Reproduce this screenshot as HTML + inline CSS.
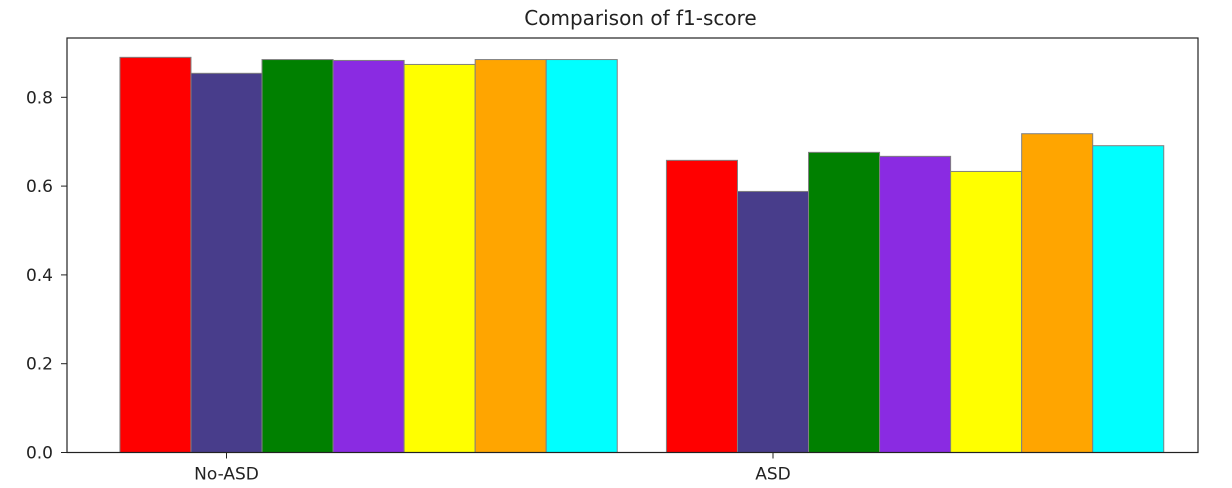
<!DOCTYPE html>
<html><head><meta charset="utf-8"><style>
body{margin:0;background:#fff;}
svg{display:block;font-family:"DejaVu Sans","Liberation Sans",sans-serif;}
</style></head><body>
<svg id="chart" width="1232" height="488"></svg>
<script>
const categories = ["No-ASD", "ASD"];
const colors = ["#ff0000", "#483d8b", "#008000", "#8a2be2", "#ffff00", "#ffa500", "#00ffff"];
const series = [
  [0.890, 0.658],
  [0.854, 0.588],
  [0.885, 0.676],
  [0.883, 0.667],
  [0.874, 0.633],
  [0.885, 0.718],
  [0.885, 0.691]
];
const yTicks = [0.0, 0.2, 0.4, 0.6, 0.8];
const yTickLabels = ["0.0", "0.2", "0.4", "0.6", "0.8"];
const barW = 0.13;

const svg = document.getElementById('chart');
const NS = 'http://www.w3.org/2000/svg';
const L = 67, R = 1198, T = 38, B = 452.5;
function xs(v){ return 226.5 + v * 546.5; }
function ys(v){ return B - v * 444; }
function mk(tag, attrs){ const e = document.createElementNS(NS, tag); for (const k in attrs) e.setAttribute(k, attrs[k]); svg.appendChild(e); return e; }

const title = mk('text', {x: (L+R)/2 + 8, y: 25, 'text-anchor': 'middle', 'font-size': 20, fill: '#222'});
title.textContent = 'Comparison of f1-score';



series.forEach((vals, k) => {
  vals.forEach((v, i) => {
    const c = xs(i + (k - 1) * barW);
    const w = barW * 546.5;
    const r = mk('rect', {x: c - w/2, y: ys(v), width: w, height: B - ys(v), fill: colors[k], stroke: '#808080', 'stroke-width': 1});
    
    
  });
});

const frame = mk('rect', {x: L, y: T, width: R - L, height: B - T, fill: 'none', stroke: '#222', 'stroke-width': 1.2});



yTicks.forEach((t, i) => {
  const y = ys(t);
  const tk = mk('line', {x1: L - 6, x2: L, y1: y, y2: y, stroke: '#222', 'stroke-width': 1});
  
  
  const lb = mk('text', {x: 53, y: y + 6, 'text-anchor': 'end', 'font-size': 17, fill: '#222'});
  lb.textContent = yTickLabels[i];
  
  
});

categories.forEach((c, i) => {
  const x = xs(i);
  const tk = mk('line', {x1: x, x2: x, y1: B, y2: B + 6, stroke: '#222', 'stroke-width': 1});
  
  
  const lb = mk('text', {x: x, y: B + 27, 'text-anchor': 'middle', 'font-size': 17, fill: '#222'});
  lb.textContent = c;
  
  
});
</script>
</body></html>
